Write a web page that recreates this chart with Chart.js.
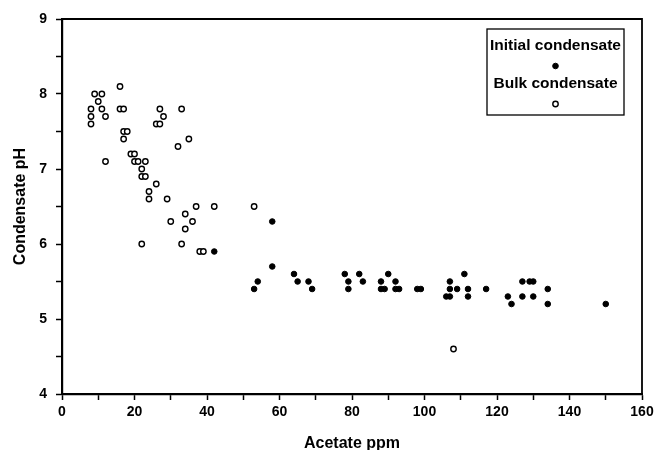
<!DOCTYPE html>
<html>
<head>
<meta charset="utf-8">
<script src="https://cdn.jsdelivr.net/npm/chart.js@4"></script>
<style>
  html, body { margin: 0; padding: 0; background: #fff; }
  #wrap { width: 656px; height: 450px; }
</style>
</head>
<body>
<div id="wrap"><canvas id="chart-ph"></canvas></div>
<script>
// series labels
const seriesLabels = ["Initial condensate", "Bulk condensate"];

// [acetate ppm, condensate pH]
const initialCondensate = [
  [42, 5.9], [58, 6.3], [58, 5.7], [53, 5.4], [54, 5.5], [64, 5.6], [65, 5.5],
  [68, 5.5], [69, 5.4], [78, 5.6], [79, 5.5], [79, 5.4], [82, 5.6], [83, 5.5],
  [88, 5.5], [88, 5.4], [89, 5.4], [90, 5.6], [92, 5.5], [92, 5.4], [93, 5.4],
  [98, 5.4], [99, 5.4], [106, 5.3], [107, 5.3], [107, 5.5], [107, 5.4], [109, 5.4],
  [111, 5.6], [112, 5.4], [112, 5.3], [117, 5.4], [123, 5.3], [124, 5.2],
  [127, 5.5], [129, 5.5], [130, 5.5], [127, 5.3], [130, 5.3], [134, 5.4],
  [134, 5.2], [150, 5.2]
];

const bulkCondensate = [
  [16, 8.1], [9, 8.0], [11, 8.0], [10, 7.9], [8, 7.8], [11, 7.8], [16, 7.8],
  [17, 7.8], [8, 7.7], [12, 7.7], [8, 7.6], [27, 7.8], [33, 7.8], [28, 7.7],
  [26, 7.6], [27, 7.6], [17, 7.5], [18, 7.5], [17, 7.4], [32, 7.3], [35, 7.4],
  [12, 7.1], [19, 7.2], [20, 7.2], [20, 7.1], [21, 7.1], [23, 7.1], [22, 7.0],
  [22, 6.9], [23, 6.9], [26, 6.8], [24, 6.7], [24, 6.6], [29, 6.6], [37, 6.5],
  [42, 6.5], [53, 6.5], [34, 6.4], [30, 6.3], [36, 6.3], [34, 6.2], [22, 6.0],
  [33, 6.0], [38, 5.9], [39, 5.9], [108, 4.6]
];

// axis ranges / ticks
const xRange = [0, 160];
const xStep = 10;       // minor tick every 10, label every 20
const xLabelEvery = 20;
const yRange = [4, 9];
const yStep = 0.5;      // minor tick every 0.5, label every 1
const xTitle = "Acetate ppm";
const yTitle = "Condensate pH";

const FONT = "'Liberation Sans', Arial, Helvetica, sans-serif";

const toPoints = (arr) => arr.map(([x, y]) => ({ x, y }));

// top + right frame lines
const framePlugin = {
  id: "frame",
  afterDraw(chart) {
    const { ctx, chartArea: a } = chart;
    ctx.save();
    ctx.strokeStyle = "#000";
    ctx.lineWidth = 1.8;
    ctx.beginPath();
    ctx.moveTo(a.left, a.top);
    ctx.lineTo(a.right, a.top);
    ctx.lineTo(a.right, a.bottom);
    ctx.stroke();
    ctx.restore();
  },
};

// legend box: label text with the marker centred under it
const boxLegend = {
  id: "boxLegend",
  afterDraw(chart) {
    const { ctx, chartArea: a } = chart;
    const w = 137, h = 86;
    const left = a.right - 18 - w;
    const top = a.top + 10;
    const cx = left + w / 2;
    ctx.save();
    ctx.strokeStyle = "#000";
    ctx.lineWidth = 1.3;
    ctx.strokeRect(left, top, w, h);
    ctx.font = "bold 15.5px " + FONT;
    ctx.textAlign = "center";
    ctx.textBaseline = "middle";
    chart.data.datasets.forEach((ds, i) => {
      const ty = top + 17 + i * 38;
      ctx.fillStyle = "#000";
      ctx.fillText(ds.label, cx, ty);
      ctx.beginPath();
      ctx.arc(cx, ty + 20, ds.pointRadius, 0, Math.PI * 2);
      ctx.fillStyle = ds.pointBackgroundColor;
      ctx.fill();
      ctx.lineWidth = ds.pointBorderWidth;
      ctx.strokeStyle = ds.pointBorderColor;
      ctx.stroke();
    });
    ctx.restore();
  },
};

const axisFrom = (range, step, labelEvery, title, fit) => ({
  type: "linear",
  min: range[0],
  max: range[1],
  grid: {
    display: true,
    drawOnChartArea: false,
    drawTicks: true,
    tickLength: 6,
    tickColor: "#000",
    tickWidth: 1.5,
  },
  border: { display: true, color: "#000", width: 2.2 },
  ticks: {
    stepSize: step,
    autoSkip: false,
    maxRotation: 0,
    color: "#000",
    font: { family: FONT, size: 14, weight: "bold" },
    callback: (v) => (Math.abs(v / labelEvery - Math.round(v / labelEvery)) < 1e-6 ? String(v) : ""),
  },
  title: {
    display: true,
    text: title,
    color: "#000",
    font: { family: FONT, size: 16, weight: "bold" },
  },
  afterFit: fit,
});

const xAxis = axisFrom(xRange, xStep, xLabelEvery, xTitle, (s) => {
  s.height = 56;
  s.paddingLeft = 0;
  s.paddingRight = 0;
});
xAxis.ticks.padding = 4;
xAxis.title.padding = { top: 0, bottom: -3 };

const yAxis = axisFrom(yRange, yStep, 1, yTitle, (s) => {
  s.width = 62;
  s.paddingTop = 0;
  s.paddingBottom = 0;
});
yAxis.ticks.padding = 9;
yAxis.title.padding = { top: 11, bottom: 0 };

new Chart(document.getElementById("chart-ph"), {
  type: "scatter",
  data: {
    datasets: [
      {
        label: seriesLabels[0],
        data: toPoints(initialCondensate),
        pointRadius: 2.8,
        pointBackgroundColor: "#000",
        pointBorderColor: "#000",
        pointBorderWidth: 1,
      },
      {
        label: seriesLabels[1],
        data: toPoints(bulkCondensate),
        pointRadius: 2.7,
        pointBackgroundColor: "#fff",
        pointBorderColor: "#000",
        pointBorderWidth: 1.4,
      },
    ],
  },
  options: {
    responsive: true,
    maintainAspectRatio: false,
    animation: false,
    layout: { padding: { top: 19, right: 14, bottom: 0, left: 0 } },
    plugins: {
      legend: { display: false },
      tooltip: { enabled: false },
    },
    scales: { x: xAxis, y: yAxis },
  },
  plugins: [framePlugin, boxLegend],
});
</script>
</body>
</html>
